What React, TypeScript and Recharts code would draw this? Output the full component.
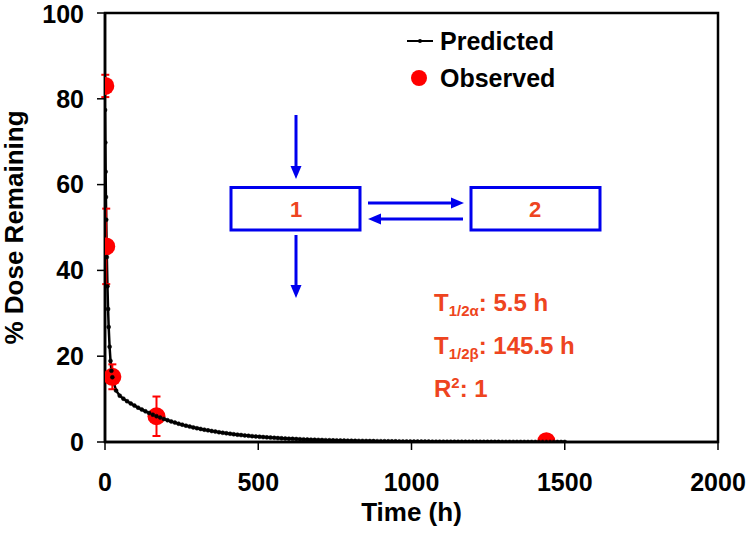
import React from 'react';
import {
  ComposedChart,
  Line,
  Scatter,
  ErrorBar,
  XAxis,
  YAxis,
  ReferenceArea,
  Legend,
} from 'recharts';

// predicted curve (h, % dose remaining)
const predTime = [
  0, 1, 2, 3, 4, 6, 8, 10, 12, 15, 18, 21,
  24, 36, 48, 60, 72, 84, 96, 108, 120, 132, 144, 156,
  168, 180, 192, 204, 216, 228, 240, 252, 264, 276, 288, 300,
  312, 324, 336, 348, 360, 372, 384, 396, 408, 420, 432, 444,
  456, 468, 480, 492, 504, 516, 528, 540, 552, 564, 576, 588,
  600, 612, 624, 636, 648, 660, 672, 684, 696, 708, 720, 732,
  744, 756, 768, 780, 792, 804, 816, 828, 840, 852, 864, 876,
  888, 900, 912, 924, 936, 948, 960, 972, 984, 996, 1008, 1020,
  1032, 1044, 1056, 1068, 1080, 1092, 1104, 1116, 1128, 1140, 1152, 1164,
  1176, 1188, 1200, 1212, 1224, 1236, 1248, 1260, 1272, 1284, 1296, 1308,
  1320, 1332, 1344, 1356, 1368, 1380, 1392, 1404, 1416, 1428, 1440, 1452,
  1464, 1476, 1488, 1500,
];
const predValue = [
  77.4, 69.8, 63.0, 57.1, 51.8, 43.1, 36.3, 31.0, 26.8, 22.2, 18.9, 16.6,
  15.1, 12.0, 10.8, 10.1, 9.51, 8.98, 8.48, 8.01, 7.57, 7.15, 6.75, 6.37,
  6.02, 5.69, 5.37, 5.07, 4.79, 4.52, 4.27, 4.04, 3.81, 3.6, 3.4, 3.21,
  3.04, 2.87, 2.71, 2.56, 2.42, 2.28, 2.15, 2.03, 1.92, 1.81, 1.71, 1.62,
  1.53, 1.44, 1.36, 1.29, 1.22, 1.15, 1.08, 1.02, 0.97, 0.91, 0.86, 0.81,
  0.77, 0.73, 0.69, 0.65, 0.61, 0.58, 0.55, 0.52, 0.49, 0.46, 0.43, 0.41,
  0.39, 0.37, 0.35, 0.33, 0.31, 0.29, 0.27, 0.26, 0.245, 0.23, 0.22, 0.21,
  0.195, 0.185, 0.175, 0.165, 0.155, 0.147, 0.14, 0.13, 0.125, 0.118, 0.11, 0.105,
  0.1, 0.093, 0.088, 0.083, 0.078, 0.074, 0.07, 0.066, 0.062, 0.059, 0.056, 0.053,
  0.05, 0.047, 0.044, 0.042, 0.04, 0.037, 0.035, 0.033, 0.031, 0.03, 0.028, 0.026,
  0.025, 0.023, 0.022, 0.021, 0.02, 0.019, 0.018, 0.017, 0.016, 0.015, 0.014, 0.013,
  0.012, 0.012, 0.011, 0.01,
];

// observed means +/- error
const obsTime = [1, 4, 24, 168, 1440];
const obsValue = [83, 45.6, 15.2, 6.0, 0.2];
const obsErr = [2.6, 8.8, 2.9, 4.6, 0];

const xTicks = [0, 500, 1000, 1500, 2000];
const yTicks = [0, 20, 40, 60, 80, 100];

const predData = predTime.map((t, i) => ({ t, v: predValue[i] }));
const obsData = obsTime.map((t, i) => ({ t, v: obsValue[i], err: obsErr[i] }));

const FONT = 'Arial, "Liberation Sans", sans-serif';
const ORANGE = '#EE4420';
const BLUE = '#0000EE';

const tickStyle = { fill: '#000', fontSize: 25, fontWeight: 'bold', fontFamily: FONT };

const YTitle = (props: any) => {
  const vb = props.viewBox;
  const cx = 14;
  const cy = vb.y + vb.height / 2;
  return (
    <text
      x={cx}
      y={cy}
      transform={`rotate(-90 ${cx} ${cy})`}
      textAnchor="middle"
      dominantBaseline="central"
      fontSize={26}
      fontWeight="bold"
      fontFamily={FONT}
      fill="#000"
    >
      % Dose Remaining
    </text>
  );
};

const XTitle = (props: any) => {
  const vb = props.viewBox;
  return (
    <text
      x={vb.x + vb.width / 2}
      y={521}
      textAnchor="middle"
      fontSize={26}
      fontWeight="bold"
      fontFamily={FONT}
      fill="#000"
    >
      Time (h)
    </text>
  );
};

const LegendBox = () => (
  <svg width={200} height={80} style={{ display: 'block', overflow: 'visible' }}>
    <line x1={7} y1={17} x2={33} y2={17} stroke="#000" strokeWidth={2} />
    <circle cx={20} cy={17} r={2} fill="#000" />
    <text x={40} y={26} fontSize={25} fontWeight="bold" fontFamily={FONT} fill="#000">
      Predicted
    </text>
    <circle cx={19} cy={54} r={8} fill="#FF0000" />
    <text x={40} y={63} fontSize={25} fontWeight="bold" fontFamily={FONT} fill="#000">
      Observed
    </text>
  </svg>
);

const ObsDot = (props: any) => <circle cx={props.cx} cy={props.cy} r={9} fill="#FF0000" />;

const Diagram = () => (
  <svg
    width={747}
    height={534}
    style={{ position: 'absolute', left: 0, top: 0, pointerEvents: 'none' }}
    fontFamily={FONT}
    fontWeight="bold"
  >
    {/* dose in */}
    <line x1={296} y1={115} x2={296} y2={168} stroke={BLUE} strokeWidth={3} />
    <polygon points="290.5,166 301.5,166 296,179" fill={BLUE} />
    {/* elimination */}
    <line x1={296} y1={235} x2={296} y2={287} stroke={BLUE} strokeWidth={3} />
    <polygon points="290.5,285 301.5,285 296,298" fill={BLUE} />
    {/* exchange arrows */}
    <line x1={368} y1={203} x2={452} y2={203} stroke={BLUE} strokeWidth={3} />
    <polygon points="451,197.5 451,208.5 464,203" fill={BLUE} />
    <line x1={463} y1={219} x2={380} y2={219} stroke={BLUE} strokeWidth={3} />
    <polygon points="381,213.5 381,224.5 368,219" fill={BLUE} />
    {/* compartments */}
    <rect x={231} y={187.5} width={129} height={42.5} fill="#fff" stroke={BLUE} strokeWidth={3} />
    <rect x={471} y={187.5} width={129} height={42.5} fill="#fff" stroke={BLUE} strokeWidth={3} />
    <text x={296} y={217} textAnchor="middle" fontSize={22} fill={ORANGE}>1</text>
    <text x={535} y={217} textAnchor="middle" fontSize={22} fill={ORANGE}>2</text>
    {/* fitted parameters */}
    <text x={434} y={311} fontSize={24} fill={ORANGE}>
      T<tspan fontSize={15} dy={5}>1/2α</tspan>
      <tspan dy={-5}>: 5.5 h</tspan>
    </text>
    <text x={434} y={354} fontSize={24} fill={ORANGE}>
      T<tspan fontSize={15} dy={5}>1/2β</tspan>
      <tspan dy={-5}>: 145.5 h</tspan>
    </text>
    <text x={434} y={397} fontSize={24} fill={ORANGE}>
      R<tspan fontSize={15} dy={-9}>2</tspan>
      <tspan dy={9}>: 1</tspan>
    </text>
  </svg>
);

export default function App() {
  return (
    <div style={{ position: 'absolute', left: 0, top: 0, width: 747, height: 534, background: '#fff' }}>
      <ComposedChart
        width={747}
        height={534}
        margin={{ top: 13, right: 29, bottom: 52, left: 45 }}
      >
        <XAxis
          type="number"
          dataKey="t"
          domain={[0, 2000]}
          ticks={xTicks}
          allowDataOverflow
          height={40}
          tickSize={8}
          tickMargin={23}
          axisLine={{ stroke: '#000', strokeWidth: 2.5 }}
          tickLine={{ stroke: '#000', strokeWidth: 1.5 }}
          tick={tickStyle}
          label={XTitle}
        />
        <YAxis
          type="number"
          dataKey="v"
          domain={[0, 100]}
          ticks={yTicks}
          allowDataOverflow
          width={60}
          tickSize={8}
          tickMargin={13}
          axisLine={{ stroke: '#000', strokeWidth: 2.5 }}
          tickLine={{ stroke: '#000', strokeWidth: 1.5 }}
          tick={tickStyle}
          label={YTitle}
        />
        <ReferenceArea x1={0} x2={2000} y1={0} y2={100} fill="none" stroke="#000" strokeWidth={2.5} />
        <Line
          data={predData}
          dataKey="v"
          type="linear"
          stroke="#000"
          strokeWidth={2.5}
          dot={{ r: 2, fill: '#000', stroke: '#000', strokeWidth: 0.5 }}
          isAnimationActive={false}
          legendType="none"
        />
        <Scatter data={obsData} dataKey="v" shape={ObsDot} isAnimationActive={false}>
          <ErrorBar dataKey="err" direction="y" width={4} stroke="#FF0000" strokeWidth={2} />
        </Scatter>
        <Legend
          layout="vertical"
          align="center"
          verticalAlign="middle"
          wrapperStyle={{ left: 400, top: 24, width: 200 }}
          content={LegendBox}
        />
      </ComposedChart>
      <Diagram />
    </div>
  );
}
